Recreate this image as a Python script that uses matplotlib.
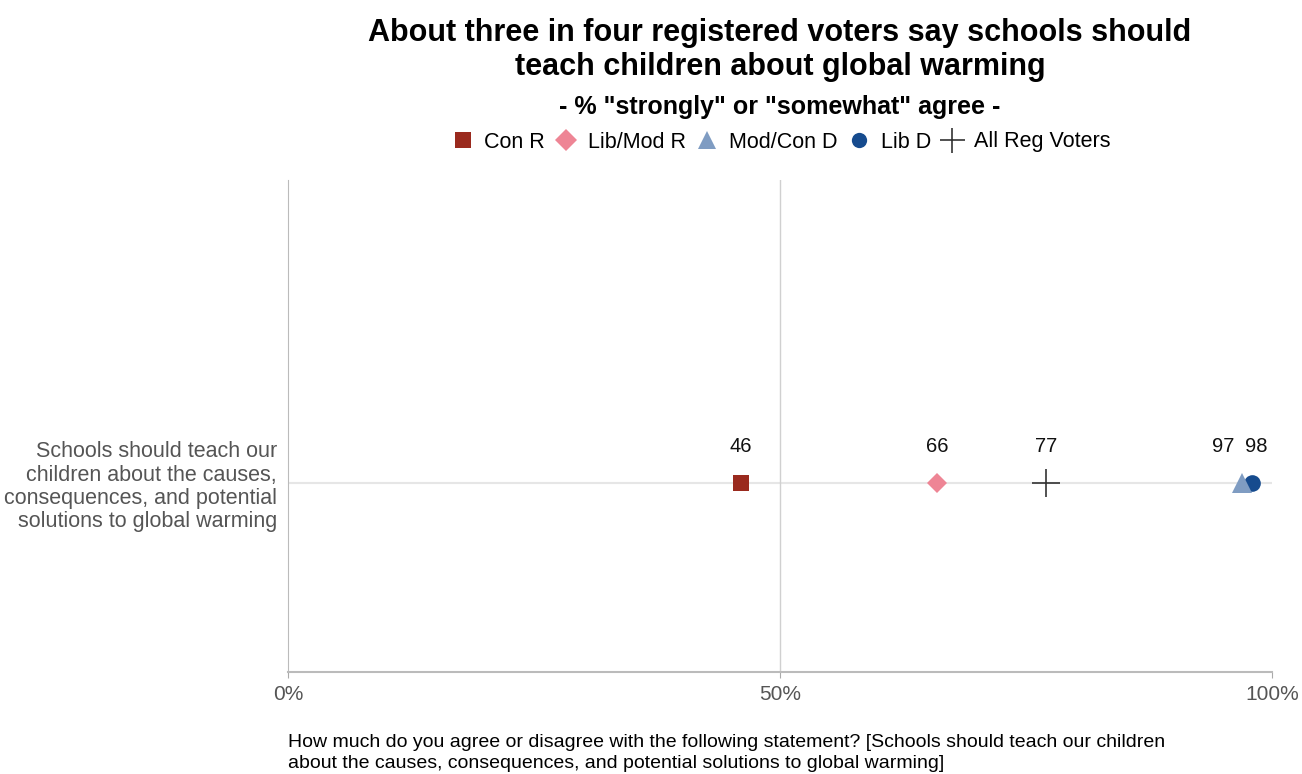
import matplotlib.pyplot as plt
from matplotlib.lines import Line2D

plt.rcParams['font.family'] = ['Liberation Sans', 'DejaVu Sans']

# data
groups = ["Con R", "Lib/Mod R", "Mod/Con D", "Lib D", "All Reg Voters"]
values = [46, 66, 97, 98, 77]
markers = ["s", "D", "^", "o", "+"]
colors = ["#9A2A1E", "#EE8595", "#7F9CC2", "#164B8E", "#333333"]
sizes = [11, 10, 15, 12, 20]
legend_sizes = [11, 11, 13, 11, 18]
zorders = [3, 3, 5, 4, 3]
statement = ("Schools should teach our\nchildren about the causes,\n"
             "consequences, and potential\nsolutions to global warming")
xticks = [0, 50, 100]
xticklabels = ["0%", "50%", "100%"]

fig = plt.figure(figsize=(13.02, 7.74), dpi=100)
ax = fig.add_axes([288 / 1302, 1 - 672 / 774, 984 / 1302, 492 / 774])

ax.axhline(0, color="#e6e6e6", linewidth=1.5, zorder=1)
ax.axvline(50, color="#d0d0d0", linewidth=1, zorder=1)

for g, v, m, c, s, z in zip(groups, values, markers, colors, sizes, zorders):
    ax.plot(v, 0, marker=m, color=c, markersize=s, linestyle="none",
            markeredgewidth=1.2 if m == "+" else 0, zorder=z)

# value labels
for v in values:
    dx = 0
    if v == 97:
        dx = -2.0
    elif v == 98:
        dx = 0.4
    ax.text(v + dx, 0.075, str(v), ha="center", va="center", fontsize=14.5,
            color="#111111")

ax.set_xlim(0, 100)
ax.set_ylim(-0.384, 0.616)
ax.set_xticks(xticks)
ax.set_xticklabels(xticklabels, fontsize=15, color="#555555")
ax.set_yticks([0])
ax.set_yticklabels([statement], fontsize=15.5, color="#555555",
                   ha="right", linespacing=1.13)
ax.tick_params(axis="y", length=0, pad=8)
ax.tick_params(axis="x", length=4, color="#aaaaaa", pad=5)
for side in ["top", "right"]:
    ax.spines[side].set_visible(False)
ax.spines["left"].set_color("#bbbbbb")
ax.spines["bottom"].set_color("#bbbbbb")
ax.spines["bottom"].set_linewidth(1.5)

cx = (288 + 984 / 2) / 1302
fig.text(cx, 1 - 50 / 774, "About three in four registered voters say schools should\n"
         "teach children about global warming", ha="center", va="center",
         fontsize=22, fontweight="bold", linespacing=1.15)
fig.text(cx, 1 - 107 / 774, '- % "strongly" or "somewhat" agree -', ha="center",
         va="center", fontsize=18, fontweight="bold")

handles = []
for g, m, c, s in zip(groups, markers, colors, legend_sizes):
    handles.append(Line2D([], [], marker=m, color=c, linestyle="none",
                          markersize=s,
                          markeredgewidth=1.2 if m == "+" else 0, label=g))
fig.legend(handles=handles, loc="center", bbox_to_anchor=(cx, 1 - 142 / 774),
           ncol=5, frameon=False, fontsize=15.5, handletextpad=0.4,
           columnspacing=0.4, handlelength=1.2)

fig.text(288 / 1302, 1 - 753 / 774,
         "How much do you agree or disagree with the following statement? [Schools should teach our children\n"
         "about the causes, consequences, and potential solutions to global warming]",
         ha="left", va="center", fontsize=14, linespacing=1.35)

fig.savefig("out.png", dpi=100)
